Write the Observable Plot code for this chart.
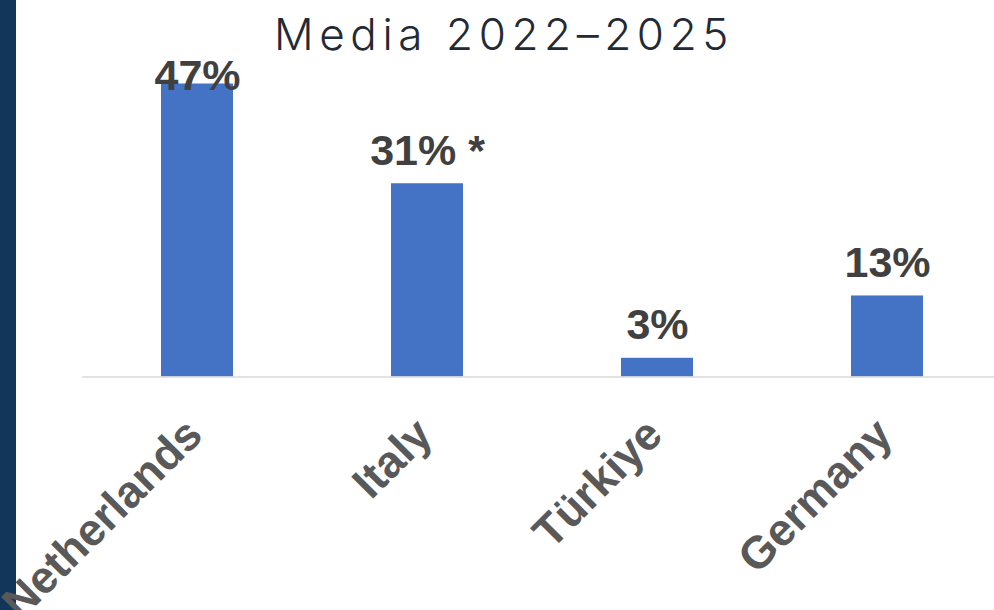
<!DOCTYPE html>
<html>
<head>
<meta charset="utf-8">
<script src="https://cdn.jsdelivr.net/npm/d3@7"></script>
<script src="https://cdn.jsdelivr.net/npm/@observablehq/plot@0.6"></script>
<style>
  html, body { margin: 0; padding: 0; background: #fff; }
  #wrap { position: relative; width: 994px; height: 610px; overflow: hidden; }
  #stripe { position: absolute; left: 0; top: 0; width: 16px; height: 610px; background: #12365a; }
  #title { position: absolute; left: 0; width: 994px; top: 8px; text-align: center; padding-left: 14px; box-sizing: border-box;
           font-family: Inter, "Liberation Sans", sans-serif; font-weight: 300; font-size: 44px; letter-spacing: 5.6px; color: #222a35; line-height: 1.2; }
  #chart { position: absolute; left: 0; top: 0; }
</style>
</head>
<body>
<div id="wrap">
  <div id="stripe"></div>
  <div id="chart"></div>
  <div id="title">Media 2022–2025</div>
</div>
<script>
const categories = ["Netherlands", "Italy", "Türkiye", "Germany"];
const values = [47, 31, 3, 13];
const valueLabels = ["47%", "31% *", "3%", "13%"];

const data = categories.map((c, i) => ({category: c, value: values[i], label: valueLabels[i]}));

const yMax = 47;
const pxPerUnit = (376.5 - 83.5) / yMax;
const labelGap = 19 / pxPerUnit;
const labelCap = yMax - 5.5 / pxPerUnit;

const chart = Plot.plot({
  width: 994,
  height: 610,
  marginTop: 83.5,
  marginBottom: 233.5,
  marginLeft: 82,
  marginRight: 0,
  style: {background: "transparent", overflow: "visible"},
  x: {domain: categories, range: [82, 1002], paddingInner: 0.687, paddingOuter: 0.3435, axis: null},
  y: {domain: [0, yMax], axis: null},
  marks: [
    Plot.barY(data, {x: "category", y: "value", fill: "#4472c4"}),
    Plot.ruleY([0], {stroke: "#d9d9d9", strokeWidth: 1.5}),
    Plot.text(data, {
      x: "category",
      y: d => Math.min(d.value + labelGap, labelCap),
      text: "label",
      lineAnchor: "bottom",
      fontFamily: "Liberation Sans, Arial, sans-serif",
      fontWeight: "bold",
      fontSize: 43,
      fill: "#404040"
    }),
    Plot.text(data, {
      x: "category",
      frameAnchor: "bottom",
      text: "category",
      rotate: -45,
      textAnchor: "end",
      lineAnchor: "middle",
      dx: -3,
      dy: 50,
      fontFamily: "Liberation Sans, Arial, sans-serif",
      fontWeight: "bold",
      fontSize: 45,
      fill: "#595959"
    })
  ]
});
document.getElementById("chart").appendChild(chart);
</script>
</body>
</html>
